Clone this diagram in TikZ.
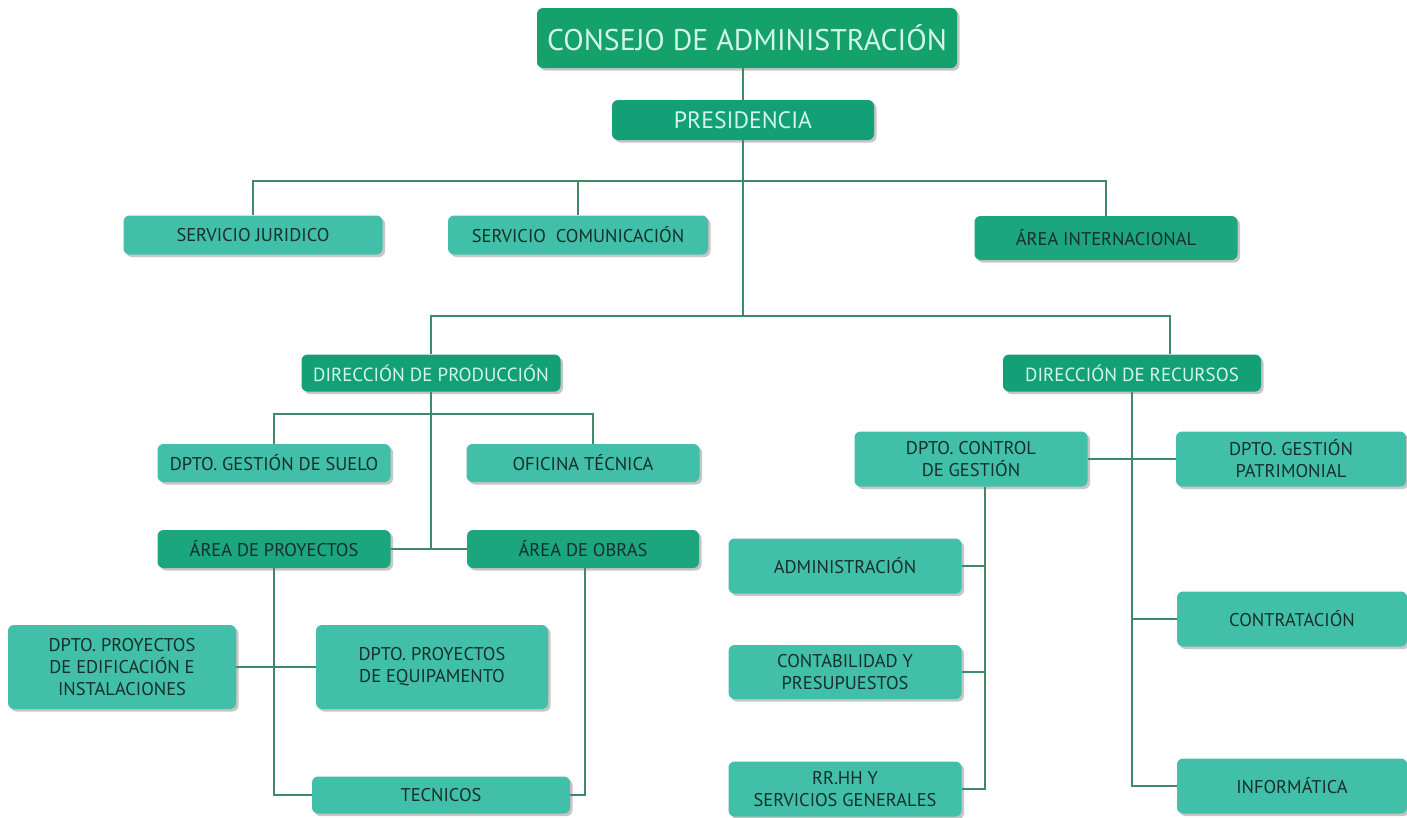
\documentclass[tikz,border=0pt]{standalone}
\usepackage{fontspec}
\setmainfont{PT Sans}
\usetikzlibrary{shadows}

\definecolor{verdefuerte}{HTML}{15A16B}
\definecolor{verdedir}{HTML}{13A077}
\definecolor{verdearea}{HTML}{1BA67D}
\definecolor{turquesa}{HTML}{41BFA9}
\definecolor{linea}{HTML}{3D8A69}
\definecolor{textoclaro}{HTML}{D2F7E6}
\definecolor{textooscuro}{HTML}{172F2B}

\tikzset{
  wh/.style 2 args={minimum width=#1*0.02cm, minimum height=#2*0.02cm},
  caja/.style={rectangle, rounded corners=0.12cm, inner sep=1pt, align=center,
    drop shadow={shadow xshift=0.05cm, shadow yshift=-0.05cm, fill=gray, opacity=0.45}},
  cajaclara/.style={caja, fill=turquesa, text=textooscuro, font=\fontsize{10.5}{12.5}\selectfont},
  cajaarea/.style={caja, fill=verdearea, text=textooscuro, font=\fontsize{10.5}{12.5}\selectfont},
  cajadir/.style={caja, fill=verdedir, text=textoclaro, font=\fontsize{10.8}{13}\selectfont},
  conector/.style={draw=linea, line width=1.3pt}
}

\begin{document}
\begin{tikzpicture}[x=0.02cm,y=-0.02cm]
  \useasboundingbox (0,0) rectangle (1407,818);

  % cabecera
  \node[caja, wh={420}{60}, fill=verdefuerte, text=textoclaro,
        font=\fontsize{17}{20}\selectfont] (consejo) at (747,38) {CONSEJO DE ADMINISTRACIÓN};
  \node[caja, wh={262}{40}, fill=verdedir, text=textoclaro,
        font=\fontsize{13.5}{16}\selectfont] (presidencia) at (743,120) {PRESIDENCIA};

  \node[cajaclara, wh={259}{39}] (juridico) at (253,235) {SERVICIO JURIDICO};
  \node[cajaclara, wh={260}{39}] (comunicacion) at (578,235) {SERVICIO\ \ COMUNICACIÓN};
  \node[cajaarea, wh={263}{44}] (internacional) at (1106,238) {ÁREA INTERNACIONAL};

  % direcciones
  \node[cajadir, wh={259}{37}] (produccion) at (431,373) {DIRECCIÓN DE PRODUCCIÓN};
  \node[cajadir, wh={258}{37}] (recursos) at (1132,373) {DIRECCIÓN DE RECURSOS};

  % produccion
  \node[cajaclara, wh={233}{38}] (suelo) at (274,463) {DPTO.\ GESTIÓN DE SUELO};
  \node[cajaclara, wh={233}{38}] (oficina) at (583,463) {OFICINA TÉCNICA};
  \node[cajaarea, wh={233}{38}] (proyectos) at (274,549) {ÁREA DE PROYECTOS};
  \node[cajaarea, wh={232}{38}] (obras) at (583,549) {ÁREA DE OBRAS};
  \node[cajaclara, wh={228}{84}] (edificacion) at (122,667) {DPTO.\ PROYECTOS\\DE EDIFICACIÓN E\\INSTALACIONES};
  \node[cajaclara, wh={232}{84}] (equipamento) at (432,667) {DPTO.\ PROYECTOS\\DE EQUIPAMENTO};
  \node[cajaclara, wh={258}{37}] (tecnicos) at (441,795) {TECNICOS};

  % recursos
  \node[cajaclara, wh={233}{55}] (control) at (971,459) {DPTO.\ CONTROL\\DE GESTIÓN};
  \node[cajaclara, wh={230}{55}] (patrimonial) at (1291,459) {DPTO.\ GESTIÓN\\PATRIMONIAL};
  \node[cajaclara, wh={233}{55}] (administracion) at (845,566) {ADMINISTRACIÓN};
  \node[cajaclara, wh={233}{54}] (contabilidad) at (845,672) {CONTABILIDAD Y\\PRESUPUESTOS};
  \node[cajaclara, wh={233}{55}] (rrhh) at (845,789) {RR.HH Y\\SERVICIOS GENERALES};
  \node[cajaclara, wh={230}{55}] (contratacion) at (1292,619) {CONTRATACIÓN};
  \node[cajaclara, wh={230}{55}] (informatica) at (1292,786) {INFORMÁTICA};

  \coordinate (nudo1) at (743,181);
  \coordinate (nudo2) at (743,316);
  \coordinate (nudo3) at (1170,316);
  \coordinate (nudo4) at (431,414);
  \coordinate (nudo5) at (593,414);
  \coordinate (nudo6) at (985,487);

  \begin{scope}[every path/.style={conector}]
    \path (presidencia.north) -- (presidencia.north |- consejo.south);
    \path (presidencia) -- (nudo2);
    \path (juridico.north) |- (nudo1) -| (internacional.north);
    \path (comunicacion.north) -- (comunicacion.north |- nudo1);
    \path (produccion.north) |- (nudo2) -- (nudo3) -- (nudo3 |- recursos.north);

    \path (suelo.north) |- (nudo4) -- (nudo5) -- (nudo5 |- oficina.north);
    \path (produccion.south) -- (produccion.south |- proyectos.east);
    \path (proyectos.east) -- (obras.west);
    \path (proyectos.south) |- (tecnicos.west);
    \path ([xshift=0.04cm]obras.south) |- (tecnicos.east);
    \path (edificacion.east) -- (equipamento.west);

    \path (recursos.south) |- (informatica.west);
    \path (control.east) -- (patrimonial.west);
    \path (contratacion.west) -- (contratacion.west -| recursos.south);
    \path (nudo6) |- (rrhh.east);
    \path (administracion.east) -- (administracion.east -| nudo6);
    \path (contabilidad.east) -- (contabilidad.east -| nudo6);
  \end{scope}

\end{tikzpicture}
\end{document}
